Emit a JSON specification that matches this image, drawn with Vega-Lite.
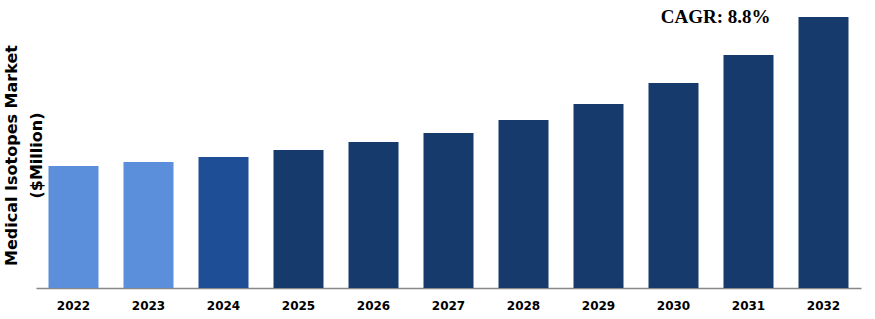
{
  "$schema": "https://vega.github.io/schema/vega-lite/v6.json",
  "autosize": "none",
  "width": 825,
  "height": 288,
  "padding": {"left": 36, "top": 0, "right": 14, "bottom": 31},
  "background": "white",
  "config": {"view": {"stroke": null}},
  "data": {"values": [
    {"year": "2022", "value": 122, "phase": "historical"},
    {"year": "2023", "value": 126, "phase": "historical"},
    {"year": "2024", "value": 131, "phase": "base"},
    {"year": "2025", "value": 138, "phase": "forecast"},
    {"year": "2026", "value": 146, "phase": "forecast"},
    {"year": "2027", "value": 155, "phase": "forecast"},
    {"year": "2028", "value": 168, "phase": "forecast"},
    {"year": "2029", "value": 184, "phase": "forecast"},
    {"year": "2030", "value": 205, "phase": "forecast"},
    {"year": "2031", "value": 233, "phase": "forecast"},
    {"year": "2032", "value": 271, "phase": "forecast"}
  ]},
  "layer": [
    {
      "mark": {"type": "bar"},
      "encoding": {
        "x": {
          "field": "year", "type": "nominal", "sort": null,
          "scale": {"paddingInner": 0.3333, "paddingOuter": 0.1667},
          "axis": {
            "title": null, "labelAngle": 0, "ticks": false,
            "domainColor": "#888888", "domainWidth": 1.5,
            "labelFont": "DejaVu Sans", "labelFontWeight": "bold", "labelFontSize": 12,
            "labelColor": "#000000", "labelPadding": 12
          }
        },
        "y": {
          "field": "value", "type": "quantitative",
          "scale": {"domain": [0, 288], "nice": false},
          "axis": {
            "title": ["Medical Isotopes Market", "($Million)"],
            "domain": false, "ticks": false, "labels": false, "grid": false,
            "titleFont": "DejaVu Sans", "titleFontWeight": "bold", "titleFontSize": 16,
            "titleColor": "#000000", "titleAngle": -90, "titleAlign": "center",
            "titleBaseline": "middle", "titleLineHeight": 25,
            "titleX": -25, "titleY": 155
          }
        },
        "color": {
          "field": "phase", "type": "nominal",
          "scale": {"domain": ["historical", "base", "forecast"], "range": ["#5B8FDC", "#1E4F96", "#173A6C"]},
          "legend": null
        }
      }
    },
    {
      "data": {"values": [{"year": "2031", "value": 265, "label": "CAGR: 8.8%"}]},
      "mark": {"type": "text", "align": "right", "baseline": "alphabetic", "dx": 22, "font": "Liberation Serif", "fontWeight": "bold", "fontSize": 19, "color": "#000000"},
      "encoding": {
        "x": {"field": "year", "type": "nominal"},
        "y": {"field": "value", "type": "quantitative"},
        "text": {"field": "label"}
      }
    }
  ]
}
